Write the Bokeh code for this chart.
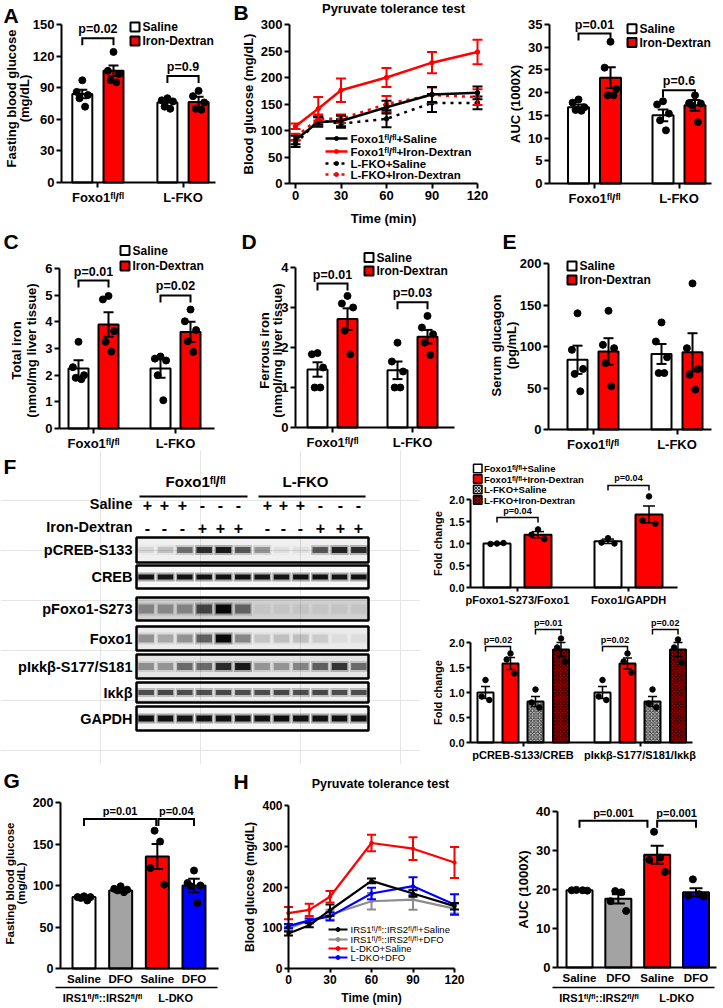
import math
from bokeh.plotting import figure
from bokeh.models import Range1d, FixedTicker, Label, LinearAxis, NumeralTickFormatter
from bokeh.layouts import row, column
from bokeh.core.properties import value
from bokeh.embed import file_html
from bokeh.resources import INLINE

FONT = "Liberation Sans"
SUP = "\u1da0\u02e1/\u1da0\u02e1"
FOXO = "Foxo1" + SUP
IRS = "IRS1" + SUP + "::IRS2" + SUP
RED = "#ff0000"
BLUE = "#0000ff"
GRAY = "#a3a3a3"
LGRAY = "#8c8c8c"

# ---------------- data ----------------
A_cats = [FOXO, "L-FKO"]
A_sal_mean = [84, 76]
A_sal_sem = [4, 3.5]
A_sal_pts = [[97, 86, 83, 80, 72], [80, 78, 77, 72, 70]]
A_iron_mean = [106, 76.5]
A_iron_sem = [5, 5]
A_iron_pts = [[124, 106, 103, 97, 95], [87, 82, 76, 70, 69]]
A_p = ["p=0.02", "p=0.9"]
A_p_y = [137, 101]

B_time = [0, 15, 30, 60, 90, 120]
B_foxo_sal = [82, 116, 118, 144, 168, 171]
B_foxo_sal_sem = [8, 9, 10, 12, 14, 12]
B_foxo_iron = [108, 141, 176, 200, 228, 248]
B_foxo_iron_sem = [5, 22, 22, 18, 20, 23]
B_lfko_sal = [75, 119, 113, 122, 152, 152]
B_lfko_sal_sem = [6, 8, 8, 16, 17, 12]
B_lfko_iron = [88, 122, 122, 150, 167, 163]
B_lfko_iron_sem = [6, 8, 8, 15, 14, 15]
B_labels = [FOXO + "+Saline", FOXO + "+Iron-Dextran", "L-FKO+Saline", "L-FKO+Iron-Dextran"]

AUC_sal_mean = [16.8, 15.0]
AUC_sal_sem = [0.6, 1.3]
AUC_sal_pts = [[18.5, 17.8, 16.8, 16.2, 16.0], [18.1, 17.4, 15.4, 13.9, 11.7]]
AUC_iron_mean = [23.3, 17.2]
AUC_iron_sem = [2.3, 1.2]
AUC_iron_pts = [[31.2, 25.5, 20.8, 19.4, 19.4], [19.4, 17.7, 17.6, 17.2, 13.5]]
AUC_p = ["p=0.01", "p=0.6"]
AUC_p_y = [33.0, 20.5]

C_sal_mean = [2.25, 2.25]
C_sal_sem = [0.31, 0.35]
C_sal_pts = [[3.25, 2.3, 2.0, 1.9, 1.85], [2.7, 2.62, 2.55, 2.0, 1.06]]
C_iron_mean = [3.9, 3.62]
C_iron_sem = [0.46, 0.38]
C_iron_pts = [[4.97, 4.84, 3.65, 3.25, 2.88], [4.46, 4.02, 3.69, 3.27, 2.87]]
C_p = ["p=0.01", "p=0.02"]
C_p_y = [5.55, 4.99]

D_sal_mean = [1.45, 1.43]
D_sal_sem = [0.18, 0.22]
D_sal_pts = [[1.86, 1.83, 1.5, 1.0, 1.0], [2.12, 1.65, 1.4, 1.0, 1.0]]
D_iron_mean = [2.71, 2.27]
D_iron_sem = [0.27, 0.17]
D_iron_pts = [[3.29, 3.1, 3.0, 2.42, 1.83], [2.79, 2.5, 2.33, 2.12, 1.81]]
D_p = ["p=0.01", "p=0.03"]
D_p_y = [3.6, 3.13]

E_sal_mean = [84, 91]
E_sal_sem = [17, 12]
E_sal_pts = [[140, 96, 73, 67, 46], [129, 106, 87, 68, 68]]
E_iron_mean = [94, 93]
E_iron_sem = [16, 23]
E_iron_pts = [[143, 102, 98, 80, 52], [176, 98, 73, 66, 48]]

BLOT_ROWS = ["pCREB-S133", "CREB", "pFoxo1-S273", "Foxo1", "pI\u03bak\u03b2-S177/S181", "I\u03bak\u03b2", "GAPDH"]
BLOT_SALINE = ["+", "+", "+", "-", "-", "-", "+", "+", "+", "-", "-", "-"]
BLOT_IRON = ["-", "-", "-", "+", "+", "+", "-", "-", "-", "+", "+", "+"]
BLOT_INT = [
    [0.08, 0.15, 0.45, 0.75, 0.85, 0.55, 0.3, 0.05, 0.05, 0.55, 0.8, 0.75],
    [0.9, 0.88, 0.9, 0.9, 0.9, 0.9, 0.88, 0.88, 0.9, 0.9, 0.88, 0.9],
    [0.3, 0.28, 0.3, 0.6, 0.95, 0.45, 0.04, 0.04, 0.04, 0.04, 0.04, 0.04],
    [0.3, 0.22, 0.3, 0.5, 0.95, 0.35, 0.12, 0.14, 0.14, 0.1, 0.04, 0.04],
    [0.3, 0.28, 0.45, 0.45, 0.75, 0.85, 0.28, 0.28, 0.35, 0.5, 0.7, 0.45],
    [0.6, 0.62, 0.6, 0.6, 0.62, 0.6, 0.6, 0.62, 0.6, 0.62, 0.6, 0.6],
    [0.92, 0.9, 0.88, 0.9, 0.9, 0.9, 0.9, 0.92, 0.9, 0.9, 0.9, 0.9],
]
BLOT_BG = [0.06, 0.03, 0.18, 0.08, 0.1, 0.06, 0.04]

FT_cats = ["pFoxo1-S273/Foxo1", "Foxo1/GAPDH"]
FT_sal_mean = [1.0, 1.05]
FT_sal_sem = [0.01, 0.05]
FT_sal_pts = [[1.0, 0.99, 1.01], [1.12, 1.02, 1.0]]
FT_iron_mean = [1.2, 1.66]
FT_iron_sem = [0.07, 0.19]
FT_iron_pts = [[1.32, 1.2, 1.1], [2.07, 1.52, 1.45]]
FT_p = ["p=0.04", "p=0.04"]
FT_p_y = [1.59, 2.32]
F_legend = [FOXO + "+Saline", FOXO + "+Iron-Dextran", "L-FKO+Saline", "L-FKO+Iron-Dextran"]

FB_cats = ["pCREB-S133/CREB", "pI\u03bak\u03b2-S177/S181/I\u03bak\u03b2"]
FB_fsal_mean = [1.0, 1.0]
FB_fsal_sem = [0.12, 0.12]
FB_fsal_pts = [[1.25, 0.92, 0.85], [1.25, 0.92, 0.85]]
FB_firon_mean = [1.58, 1.58]
FB_firon_sem = [0.12, 0.11]
FB_firon_pts = [[1.78, 1.66, 1.38], [1.78, 1.62, 1.4]]
FB_lsal_mean = [0.82, 0.82]
FB_lsal_sem = [0.1, 0.1]
FB_lsal_pts = [[1.06, 0.8, 0.7], [1.06, 0.78, 0.7]]
FB_liron_mean = [1.86, 1.86]
FB_liron_sem = [0.14, 0.14]
FB_liron_pts = [[2.08, 1.9, 1.62], [2.06, 1.9, 1.6]]
FB_p_sal_iron = ["p=0.02", "p=0.02"]
FB_p_lfko = ["p=0.01", "p=0.02"]
FB_p_y1 = [1.92, 1.92]
FB_p_y2 = [2.26, 2.26]

G_labels = ["Saline", "DFO", "Saline", "DFO"]
G_groups = [IRS, "L-DKO"]
G_mean = [86, 94, 135, 100]
G_sem = [1.5, 1.5, 15, 8]
G_pts = [[87, 86, 86, 85, 82], [99, 96, 95, 94, 92], [166, 153, 121, 101], [118, 103, 100, 99, 79]]
G_p = ["p=0.01", "p=0.04"]
G_p_y = [180, 180]

H_time = [0, 15, 30, 60, 90, 120]
H_irs_sal = [86, 106, 143, 215, 184, 153]
H_irs_sal_sem = [5, 5, 14, 6, 8, 8]
H_irs_dfo = [98, 118, 132, 165, 169, 147]
H_irs_dfo_sem = [5, 5, 12, 20, 25, 12]
H_dko_sal = [136, 144, 176, 308, 294, 260]
H_dko_sal_sem = [15, 15, 14, 20, 28, 38]
H_dko_dfo = [104, 118, 128, 184, 202, 157]
H_dko_dfo_sem = [5, 5, 10, 14, 22, 25]
H_labels = [IRS + "+Saline", IRS + "+DFO", "L-DKO+Saline", "L-DKO+DFO"]

HA_mean = [19.8, 17.6, 28.9, 19.3]
HA_sem = [0.15, 1.2, 2.3, 1.0]
HA_pts = [[19.9, 19.8, 19.8, 19.7], [19.6, 19.3, 17.0, 14.5], [34.8, 28.2, 27.6, 24.5], [22.6, 18.8, 18.4, 18.2]]
HA_p = ["p=0.001", "p=0.001"]
HA_p_y = [37.6, 37.6]

PAT = {3: [0.0, -0.6, 0.6], 4: [-0.3, 0.3, -0.75, 0.75], 5: [0.0, -0.7, 0.7, -0.35, 0.35]}


# ---------------- helpers ----------------
class Panel:
    """A figure whose frame fills its whole box; axes sit at fixed locations inside it."""

    def __init__(self, box, xcal, ycal, yaxis_px=None, xaxis_py=None):
        x0, y0, x1, y1 = box
        self.xv, self.xp = xcal[0], xcal[1]
        self.kx = (xcal[2] - xcal[0]) / (xcal[3] - xcal[1])
        self.yv, self.yp = ycal[0], ycal[1]
        self.ky = (ycal[2] - ycal[0]) / (ycal[3] - ycal[1])
        axes = yaxis_px is not None
        kw = {}
        if not axes:
            kw = dict(x_axis_location=None, y_axis_location=None)
        p = figure(width=x1 - x0, height=y1 - y0,
                   x_range=Range1d(self.X(x0), self.X(x1)),
                   y_range=Range1d(self.Y(y1), self.Y(y0)),
                   output_backend="svg", toolbar_location=None,
                   min_border_left=0, min_border_right=0,
                   min_border_top=0, min_border_bottom=0, **kw)
        p.outline_line_color = None
        p.background_fill_color = "white"
        p.border_fill_color = "white"
        if axes:
            p.grid.visible = False
            self.ax_x = self.X(yaxis_px)
            p.yaxis[0].fixed_location = self.X(yaxis_px)
            p.xaxis[0].fixed_location = self.Y(xaxis_py)
        self.p = p

    def X(self, px):
        return self.xv + (px - self.xp) * self.kx

    def Y(self, py):
        return self.yv + (py - self.yp) * self.ky

    @property
    def ux(self):
        return abs(self.kx)

    @property
    def uy(self):
        return abs(self.ky)


def style_ax(ax, size, tick_out=5, label_size="13px"):
    ax.axis_line_color = "black"
    ax.axis_line_width = 2
    ax.major_tick_line_color = "black"
    ax.major_tick_line_width = 2
    ax.major_tick_out = tick_out
    ax.major_tick_in = 0
    ax.minor_tick_line_color = None
    ax.major_label_text_font = FONT
    ax.major_label_text_font_style = "bold"
    ax.major_label_text_font_size = size
    ax.major_label_text_color = "black"
    ax.major_label_standoff = 2
    ax.axis_label_text_font = FONT
    ax.axis_label_text_font_style = "bold"
    ax.axis_label_text_font_size = label_size
    ax.axis_label_text_color = "black"
    ax.axis_label_standoff = 2


def style_axes(P, size, tick_out=5, label_size="13px"):
    for ax in P.p.axis:
        style_ax(ax, size, tick_out, label_size)


def label(P, px, py, text, size, align="center", baseline="middle", angle=0, style="bold", color="black"):
    P.p.add_layout(Label(x=P.X(px), y=P.Y(py), text=text, text_font=FONT, text_font_size=size,
                         text_font_style=style, text_color=color, text_align=align,
                         text_baseline=baseline, angle=angle))


def letter(P, px, py, text):
    label(P, px, py, text, "21px", align="left")


def ylab2(P, xs, yc, texts, size):
    for x, t in zip(xs, texts):
        label(P, x, yc, t, size, angle=math.pi / 2)


def bar_group(P, centers, offset_px, width_px, means, sems, pts, fill, dot=7, cap_px=None,
              hatch=None, lw=2, err_lw=2):
    xs = [c + offset_px * P.ux for c in centers]
    w = width_px * P.ux
    kw = {}
    if hatch:
        kw = dict(hatch_pattern=hatch[0], hatch_color=hatch[1], hatch_scale=hatch[2], hatch_weight=1)
    P.p.vbar(x=xs, top=means, width=w, bottom=0, fill_color=fill, line_color="black",
             line_width=lw, **kw)
    ox, oy = [], []
    for x, vals in zip(xs, pts):
        pat = PAT[len(vals)]
        for v, o in zip(vals, pat):
            ox.append(x + o * w * 0.4)
            oy.append(v)
    P.p.scatter(ox, oy, size=dot, fill_color="black", line_color="black")
    cap = (cap_px if cap_px else width_px * 0.5) * P.ux
    lo = [m - s for m, s in zip(means, sems)]
    hi = [m + s for m, s in zip(means, sems)]
    P.p.segment(xs, lo, xs, hi, line_color="black", line_width=err_lw)
    P.p.segment([x - cap / 2 for x in xs], hi, [x + cap / 2 for x in xs], hi, line_color="black", line_width=err_lw)
    P.p.segment([x - cap / 2 for x in xs], lo, [x + cap / 2 for x in xs], lo, line_color="black", line_width=err_lw)
    return xs


def bracket(P, xa, xb, y, text, size, leg_px=7, lw=2, pad=2):
    leg = leg_px * P.uy
    P.p.line([xa, xa, xb, xb], [y - leg, y, y, y - leg], line_color="black", line_width=lw,
             line_join="miter")
    P.p.add_layout(Label(x=(xa + xb) / 2, y=y, y_offset=pad, text=text, text_font=FONT,
                         text_font_size=size, text_font_style="bold", text_align="center",
                         text_baseline="bottom", text_color="black"))


def sq_legend(P, x0, rows, labels, fills, size_px, font, lw=2, gap=3):
    for y, lab, f in zip(rows, labels, fills):
        P.p.rect(x=[P.X(x0 + size_px / 2)], y=[P.Y(y)], width=size_px * P.ux, height=size_px * P.uy,
                 line_color="black", line_width=lw, **f)
        label(P, x0 + size_px + gap, y, lab, font, align="left")


def line_legend(P, x0, x1, rows, labels, styles, font, style="bold", lw=2.5):
    for y, lab, st in zip(rows, labels, styles):
        P.p.line([P.X(x0), P.X(x1)], [P.Y(y), P.Y(y)], line_color=st[0], line_width=lw, line_dash=st[1])
        P.p.scatter([P.X((x0 + x1) / 2)], [P.Y(y)], size=4, color=st[0])
        label(P, x1 + 3, y, lab, font, align="left", style=style)


def series(P, xs, vals, sems, color, dash, cap_px=10, lw=2.5, dot=4.5):
    P.p.line(xs, vals, line_color=color, line_width=lw, line_dash=dash)
    P.p.scatter(xs, vals, size=dot, color=color)
    cap = cap_px * P.ux
    lo = [m - s for m, s in zip(vals, sems)]
    hi = [m + s for m, s in zip(vals, sems)]
    P.p.segment(xs, lo, xs, hi, line_color=color, line_width=2)
    P.p.segment([x - cap / 2 for x in xs], hi, [x + cap / 2 for x in xs], hi, line_color=color, line_width=2)
    P.p.segment([x - cap / 2 for x in xs], lo, [x + cap / 2 for x in xs], lo, line_color=color, line_width=2)


def cat_axis(P, ticks, labels, end_px):
    ax = P.p.xaxis[0]
    ax.ticker = FixedTicker(ticks=ticks)
    ax.major_label_overrides = {t: l for t, l in zip(ticks, labels)}
    ax.bounds = (P.ax_x, P.X(end_px))


def y_axis(P, ticks, top, fmt=None):
    ax = P.p.yaxis[0]
    ax.ticker = FixedTicker(ticks=ticks)
    ax.bounds = (0, top)
    if fmt:
        ax.formatter = NumeralTickFormatter(format=fmt)


# ---------------- Row 1 ----------------
pA = Panel((0, 0, 230, 228), (1, 97.4, 2, 182.5), (0, 182, 150, 24), 61, 182)
style_axes(pA, "13px")
y_axis(pA, [0, 30, 60, 90, 120, 150], 150)
cat_axis(pA, [1, 2], A_cats, 215)
xs_s = bar_group(pA, [1, 2], -15.6, 20, A_sal_mean, A_sal_sem, A_sal_pts, "white")
xs_i = bar_group(pA, [1, 2], 15.6, 20, A_iron_mean, A_iron_sem, A_iron_pts, RED)
for i in range(2):
    bracket(pA, xs_s[i], xs_i[i], A_p_y[i], A_p[i], "12.5px")
sq_legend(pA, 130, [26.5, 40.5], ["Saline", "Iron-Dextran"], [dict(fill_color="white"), dict(fill_color=RED)], 9, "12px")
letter(pA, 3, 15, "A")
ylab2(pA, [11, 24], 98, ["Fasting blood glucose", "(mg/dL)"], "13px")

pB = Panel((230, 0, 490, 228), (0, 295, 120, 477), (0, 183, 300, 24), 289, 183)
style_axes(pB, "13px")
y_axis(pB, [0, 50, 100, 150, 200, 250, 300], 300)
pB.p.xaxis.ticker = FixedTicker(ticks=[0, 30, 60, 90, 120])
pB.p.xaxis.bounds = (pB.ax_x, 120)
pB.p.xaxis.axis_label = "Time (min)"
pB.p.xaxis.axis_label_standoff = 8
pB.p.yaxis.axis_label = "Blood glucose (mg/dL)"
series(pB, B_time, B_lfko_sal, B_lfko_sal_sem, "black", "3 5")
series(pB, B_time, B_lfko_iron, B_lfko_iron_sem, RED, "3 5")
series(pB, B_time, B_foxo_sal, B_foxo_sal_sem, "black", "solid")
series(pB, B_time, B_foxo_iron, B_foxo_iron_sem, RED, "solid")
line_legend(pB, 325, 347, [138, 151, 163, 174], B_labels,
            [("black", "solid"), (RED, "solid"), ("black", "3 5"), (RED, "3 5")], "11.5px")
letter(pB, 233, 12, "B")
label(pB, 393, 8, "Pyruvate tolerance test", "13px")

pAU = Panel((490, 0, 721, 228), (1, 594, 2, 678.5), (0, 183, 35, 24), 549, 183)
style_axes(pAU, "13px")
y_axis(pAU, [0, 5, 10, 15, 20, 25, 30, 35], 35)
cat_axis(pAU, [1, 2], A_cats, 711)
pAU.p.yaxis.axis_label = "AUC (1000X)"
xs_s = bar_group(pAU, [1, 2], -16, 21, AUC_sal_mean, AUC_sal_sem, AUC_sal_pts, "white")
xs_i = bar_group(pAU, [1, 2], 16, 21, AUC_iron_mean, AUC_iron_sem, AUC_iron_pts, RED)
for i in range(2):
    bracket(pAU, xs_s[i], xs_i[i], AUC_p_y[i], AUC_p[i], "12.5px")
sq_legend(pAU, 627, [28.3, 42], ["Saline", "Iron-Dextran"], [dict(fill_color="white"), dict(fill_color=RED)], 9, "12px")

# ---------------- Row 2 ----------------
pC = Panel((0, 228, 240, 450), (1, 93, 2, 175), (0, 428, 6, 268), 59, 428)
style_axes(pC, "13px")
y_axis(pC, [0, 1, 2, 3, 4, 5, 6], 6)
cat_axis(pC, [1, 2], A_cats, 214)
xs_s = bar_group(pC, [1, 2], -15, 20, C_sal_mean, C_sal_sem, C_sal_pts, "white")
xs_i = bar_group(pC, [1, 2], 15, 20, C_iron_mean, C_iron_sem, C_iron_pts, RED)
for i in range(2):
    bracket(pC, xs_s[i], xs_i[i], C_p_y[i], C_p[i], "12.5px")
sq_legend(pC, 120, [250, 265.5], ["Saline", "Iron-Dextran"], [dict(fill_color="white"), dict(fill_color=RED)], 9, "12px")
letter(pC, 3, 241, "C")
ylab2(pC, [16, 31], 350, ["Total iron", "(nmol/mg liver tissue)"], "13px")

pD = Panel((240, 228, 480, 450), (1, 332, 2, 412), (0, 427, 4, 267), 295, 427)
style_axes(pD, "13px")
y_axis(pD, [0, 1, 2, 3, 4], 4)
cat_axis(pD, [1, 2], A_cats, 454)
xs_s = bar_group(pD, [1, 2], -15, 20, D_sal_mean, D_sal_sem, D_sal_pts, "white")
xs_i = bar_group(pD, [1, 2], 15, 20, D_iron_mean, D_iron_sem, D_iron_pts, RED)
for i in range(2):
    bracket(pD, xs_s[i], xs_i[i], D_p_y[i], D_p[i], "12.5px")
sq_legend(pD, 364, [257, 270.5], ["Saline", "Iron-Dextran"], [dict(fill_color="white"), dict(fill_color=RED)], 9, "12px")
letter(pD, 241, 241, "D")
ylab2(pD, [264, 277], 350, ["Ferrous iron", "(nmol/mg liver tissue)"], "13px")

pE = Panel((480, 228, 721, 450), (1, 592.5, 2, 676.5), (0, 429, 200, 263), 548, 429)
style_axes(pE, "13px")
y_axis(pE, [0, 50, 100, 150, 200], 200)
cat_axis(pE, [1, 2], A_cats, 711)
bar_group(pE, [1, 2], -15.5, 20, E_sal_mean, E_sal_sem, E_sal_pts, "white")
bar_group(pE, [1, 2], 15.5, 20, E_iron_mean, E_iron_sem, E_iron_pts, RED)
sq_legend(pE, 567, [265.5, 279.5], ["Saline", "Iron-Dextran"], [dict(fill_color="white"), dict(fill_color=RED)], 9, "12px")
letter(pE, 502, 241, "E")
ylab2(pE, [496, 511], 345, ["Serum glucagon", "(pg/mL)"], "13px")

# ---------------- Row 3: blot ----------------
pBl = Panel((0, 450, 420, 764), (0, 0, 1, 1), (450, 450, 451, 451))
bp = pBl.p
letter(pBl, 3, 466, "F")
label(pBl, 195, 481, FOXO, "15px")
label(pBl, 305, 481, "L-FKO", "15px")
bp.segment([139, 258], [496, 496], [247, 365], [496, 496], line_color="black", line_width=2)
label(pBl, 132, 503, "Saline", "14.5px", align="right")
label(pBl, 132, 526, "Iron-Dextran", "14.5px", align="right")
SIGN_X = [147, 164, 182, 202, 220, 238, 267, 283, 300, 320, 340, 358]
bp.text(x=SIGN_X, y=[504] * 12, text=BLOT_SALINE, text_font=value(FONT), text_font_size="16px",
        text_font_style="bold", text_align="center", text_baseline="middle", text_color="black")
bp.text(x=SIGN_X, y=[527] * 12, text=BLOT_IRON, text_font=value(FONT), text_font_size="16px",
        text_font_style="bold", text_align="center", text_baseline="middle", text_color="black")
BOX_L, BOX_R = 136, 368
BOX_Y = [(537, 562), (565, 588), (597, 620), (626, 650), (654, 678), (682, 702), (706, 730)]
BAND_H = [6, 5, 9, 8, 7, 5, 6]
lane_w = (BOX_R - BOX_L) / 12.0
lane_x = [BOX_L + lane_w * (i + 0.5) for i in range(12)]
for k, (name, (t, b)) in enumerate(zip(BLOT_ROWS, BOX_Y)):
    yc = (t + b) / 2
    bp.rect(x=[(BOX_L + BOX_R) / 2], y=[yc], width=BOX_R - BOX_L, height=b - t,
            fill_color="black", fill_alpha=BLOT_BG[k], line_color=None)
    bp.rect(x=lane_x, y=[yc] * 12, width=lane_w * 0.95, height=BAND_H[k] + 4, fill_color="black",
            fill_alpha=[a * 0.35 for a in BLOT_INT[k]], line_color=None)
    bp.rect(x=lane_x, y=[yc] * 12, width=lane_w * 0.8, height=BAND_H[k], fill_color="black",
            fill_alpha=BLOT_INT[k], line_color=None)
    bp.rect(x=[(BOX_L + BOX_R) / 2], y=[yc], width=BOX_R - BOX_L, height=b - t,
            fill_color=None, line_color="black", line_width=2.5)
    label(pBl, 132, yc, name, "14.5px", align="right")

# ---------------- Row 3: F charts ----------------
HATCH_G = ("diagonal_cross", "#3a3a3a", 3.5)
HATCH_R = ("diagonal_cross", "#2a0000", 3.5)

pFT = Panel((420, 450, 721, 607), (1, 517, 2, 628), (0, 587, 1, 543), 470, 587)
style_axes(pFT, "11px", tick_out=4, label_size="11px")
y_axis(pFT, [0, 0.5, 1.0, 1.5, 2.0], 2.0, fmt="0.0")
cat_axis(pFT, [1, 2], FT_cats, 677)
pFT.p.yaxis.axis_label = "Fold change"
xs_s = bar_group(pFT, [1, 2], -20.5, 27, FT_sal_mean, FT_sal_sem, FT_sal_pts, "white", dot=5.5, cap_px=12, err_lw=1.5)
xs_i = bar_group(pFT, [1, 2], 20.5, 27, FT_iron_mean, FT_iron_sem, FT_iron_pts, RED, dot=5.5, cap_px=12, err_lw=1.5)
for i in range(2):
    bracket(pFT, xs_s[i], xs_i[i], FT_p_y[i], FT_p[i], "9px", leg_px=5, lw=1.5)
sq_legend(pFT, 473, [468, 478.5, 489, 499.5], F_legend,
          [dict(fill_color="white"), dict(fill_color=RED),
           dict(fill_color="#c8c8c8", hatch_pattern=HATCH_G[0], hatch_color=HATCH_G[1], hatch_scale=3),
           dict(fill_color="#b00000", hatch_pattern=HATCH_R[0], hatch_color=HATCH_R[1], hatch_scale=3)],
          8.5, "9.5px", lw=1.5, gap=2)

pFB = Panel((420, 607, 721, 764), (1, 522.5, 2, 639.5), (0, 742, 1, 692), 470, 742)
style_axes(pFB, "11px", tick_out=4, label_size="11px")
y_axis(pFB, [0, 0.5, 1.0, 1.5, 2.0], 2.0, fmt="0.0")
cat_axis(pFB, [1, 2], FB_cats, 692)
pFB.p.yaxis.axis_label = "Fold change"
xa = bar_group(pFB, [1, 2], -37.5, 16, FB_fsal_mean, FB_fsal_sem, FB_fsal_pts, "white", dot=5.5, cap_px=9, err_lw=1.5)
xb = bar_group(pFB, [1, 2], -12.5, 16, FB_firon_mean, FB_firon_sem, FB_firon_pts, RED, dot=5.5, cap_px=9, err_lw=1.5)
xc = bar_group(pFB, [1, 2], 12.5, 16, FB_lsal_mean, FB_lsal_sem, FB_lsal_pts, "#c8c8c8", dot=5.5, cap_px=9,
               hatch=HATCH_G, err_lw=1.5)
xd = bar_group(pFB, [1, 2], 38, 16, FB_liron_mean, FB_liron_sem, FB_liron_pts, "#b00000", dot=5.5, cap_px=9,
               hatch=HATCH_R, err_lw=1.5)
for i in range(2):
    bracket(pFB, xa[i], xb[i], FB_p_y1[i], FB_p_sal_iron[i], "9px", leg_px=5, lw=1.5)
    bracket(pFB, xc[i], xd[i], FB_p_y2[i], FB_p_lfko[i], "9px", leg_px=5, lw=1.5)

# ---------------- Row 4 ----------------
pG = Panel((0, 764, 230, 1006), (1, 83.5, 4, 193.5), (0, 968, 200, 802), 60, 968)
style_axes(pG, "12.5px")
y_axis(pG, [0, 50, 100, 150, 200], 200)
cat_axis(pG, [1, 2, 3, 4], G_labels, 218)
pG.p.xaxis.major_tick_out = 0
pG.p.xaxis.major_label_text_font_size = "11.5px"
pG.p.xaxis.major_label_standoff = 4
g2 = LinearAxis(ticker=FixedTicker(ticks=[1.5, 3.5]), major_label_overrides={1.5: G_groups[0], 3.5: G_groups[1]},
                fixed_location=pG.Y(987))
style_ax(g2, "11px", tick_out=0)
g2.axis_line_width = 1.5
g2.major_label_standoff = 4
g2.bounds = (pG.X(55), pG.X(217))
pG.p.add_layout(g2, "below")
colors = ["white", GRAY, RED, BLUE]
gx = []
for i in range(4):
    gx += bar_group(pG, [i + 1], 0, 23, [G_mean[i]], [G_sem[i]], [G_pts[i]], colors[i])
bracket(pG, gx[0], gx[2] - 0.03, G_p_y[0], G_p[0], "11px")
bracket(pG, gx[2] + 0.03, gx[3], G_p_y[1], G_p[1], "11px")
letter(pG, 3, 780, "G")
ylab2(pG, [9, 20.5], 883, ["Fasting blood glucose", "(mg/dL)"], "11.5px")

pH = Panel((230, 764, 505, 1006), (0, 288, 120, 454), (0, 968, 400, 805), 288, 968)
style_axes(pH, "12px", tick_out=4, label_size="12px")
y_axis(pH, [0, 100, 200, 300, 400], 400)
pH.p.xaxis.ticker = FixedTicker(ticks=[0, 30, 60, 90, 120])
pH.p.xaxis.bounds = (0, 120)
pH.p.xaxis.axis_label = "Time (min)"
pH.p.xaxis.axis_label_standoff = 4
pH.p.yaxis.axis_label = "Blood glucose (mg/dL)"
series(pH, H_time, H_irs_dfo, H_irs_dfo_sem, LGRAY, "solid", cap_px=9, lw=2.2, dot=3.5)
series(pH, H_time, H_dko_dfo, H_dko_dfo_sem, BLUE, "solid", cap_px=9, lw=2.2, dot=3.5)
series(pH, H_time, H_irs_sal, H_irs_sal_sem, "black", "solid", cap_px=9, lw=2.2, dot=3.5)
series(pH, H_time, H_dko_sal, H_dko_sal_sem, RED, "solid", cap_px=9, lw=2.2, dot=3.5)
line_legend(pH, 328, 347, [929, 939, 948, 957], H_labels,
            [("black", "solid"), (LGRAY, "solid"), (RED, "solid"), (BLUE, "solid")], "9.5px",
            style="normal", lw=2)
letter(pH, 233, 781, "H")
label(pH, 380, 783, "Pyruvate tolerance test", "12.5px")

pHA = Panel((505, 764, 721, 1006), (1, 579, 4, 695.5), (0, 967, 40, 811), 557, 967)
style_axes(pHA, "13px")
y_axis(pHA, [0, 10, 20, 30, 40], 40)
cat_axis(pHA, [1, 2, 3, 4], G_labels, 716)
pHA.p.xaxis.major_tick_out = 0
pHA.p.xaxis.major_label_text_font_size = "11.5px"
pHA.p.xaxis.major_label_standoff = 4
pHA.p.yaxis.axis_label = "AUC (1000X)"
h2 = LinearAxis(ticker=FixedTicker(ticks=[1.5, 3.5]), major_label_overrides={1.5: G_groups[0], 3.5: G_groups[1]},
                fixed_location=pHA.Y(987))
style_ax(h2, "11px", tick_out=0)
h2.axis_line_width = 1.5
h2.major_label_standoff = 4
h2.bounds = (pHA.X(552), pHA.X(714))
pHA.p.add_layout(h2, "below")
hx = []
for i in range(4):
    hx += bar_group(pHA, [i + 1], 0, 26, [HA_mean[i]], [HA_sem[i]], [HA_pts[i]], colors[i])
bracket(pHA, hx[0], hx[2] - 0.25, HA_p_y[0], HA_p[0], "11px")
bracket(pHA, hx[2], hx[3], HA_p_y[1], HA_p[1], "11px")

layout = column(
    row(pA.p, pB.p, pAU.p),
    row(pC.p, pD.p, pE.p),
    row(pBl.p, column(pFT.p, pFB.p)),
    row(pG.p, pH.p, pHA.p),
)

open("out.html", "w").write(file_html(layout, INLINE))
